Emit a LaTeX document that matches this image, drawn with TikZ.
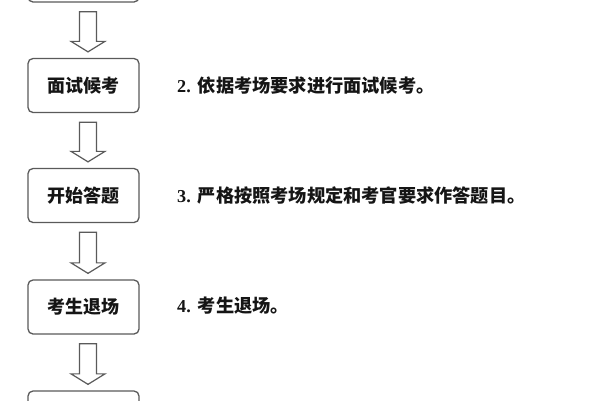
\documentclass[tikz,border=0pt]{standalone}
\usepackage{fontspec}
\setmainfont{Liberation Serif}
\newfontfamily\cjk{Noto Sans CJK SC}
\usetikzlibrary{calc}
\definecolor{linegray}{HTML}{5A5A5A}
\definecolor{ink}{HTML}{151515}
\tikzset{
  stepbox/.style={draw=linegray, line width=1.3pt, rounded corners=5pt,
    minimum width=111pt, minimum height=54pt, inner sep=0pt,
    font=\cjk\bfseries\fontsize{18}{20}\selectfont, text=ink},
  sidelabel/.style={anchor=west, inner sep=0pt, text=ink,
    font=\bfseries\fontsize{18.2}{20}\selectfont},
  blockarrow/.style={draw=linegray, line width=1.2pt, fill=white,
    to path={let \p1=($(\tikztostart.south)+(4.5pt,-9pt)$),
                 \p2=($(\tikztotarget.north)+(4.5pt,6pt)$) in
      (\x1-8.5pt,\y1) -- (\x1+8.5pt,\y1) -- (\x1+8.5pt,\y2+10.5pt)
      -- (\x1+17pt,\y2+10.5pt) -- (\x1,\y2) -- (\x1-17pt,\y2+10.5pt)
      -- (\x1-8.5pt,\y2+10.5pt) -- cycle}}
}
\begin{document}
\begin{tikzpicture}[x=1pt,y=1pt]
\useasboundingbox (0,0) rectangle (600,-400);
\clip (0,0) rectangle (600,-400);
\fill[white] (0,0) rectangle (600,-400);
\node[stepbox] (b1) at (83.5,25) {};
\node[stepbox] (b2) at (83.5,-85.5) {面试候考};
\node[stepbox] (b3) at (83.5,-195.5) {开始答题};
\node[stepbox] (b4) at (83.5,-307) {考生退场};
\node[stepbox] (b5) at (83.5,-418) {};
\draw[blockarrow] (b1) to (b2);
\draw[blockarrow] (b2) to (b3);
\draw[blockarrow] (b3) to (b4);
\draw[blockarrow] (b4) to (b5);
\node[sidelabel] (t2) at (177,-86) {2.\hspace{7pt}{\cjk 依据考场要求进行面试候考。}};
\node[sidelabel] (t3) at (177,-196) {3.\hspace{7pt}{\cjk 严格按照考场规定和考官要求作答题目。}};
\node[sidelabel] (t4) at (177,-306) {4.\hspace{7pt}{\cjk 考生退场。}};
\end{tikzpicture}
\end{document}
